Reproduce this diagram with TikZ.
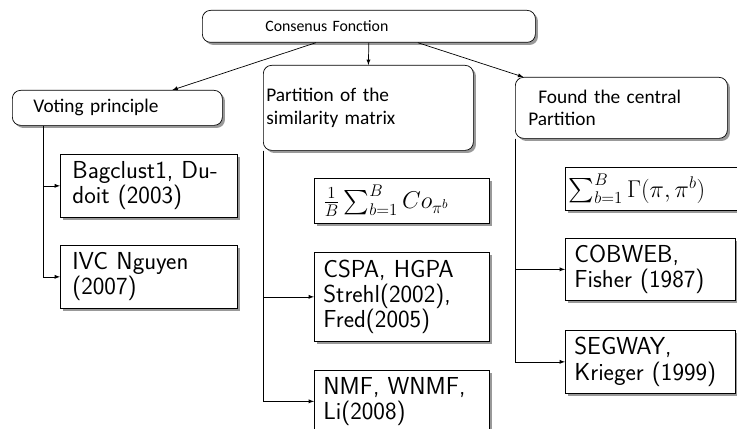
\documentclass[tikz,border=0pt]{standalone}
\usepackage{amsmath, amssymb}
\usepackage{exscale}
\usepackage{fontspec}
\newfontfamily\headfont{Carlito}
\usepackage{tikz}
\usetikzlibrary{
  % rounded boxes with a shadow
  shadows,%
  arrows,
  positioning
}
\tikzset{>=latex}
\tikzset{
  boxshadow/.style={drop shadow={shadow xshift=2.2pt, shadow yshift=-2.2pt,
      fill=black!40, opacity=1}},
  headbox/.style={draw, line width=0.6pt, rounded corners=7pt, fill=white,
    boxshadow, anchor=north west, align=left,
    font=\headfont\fontsize{16.5}{19.5}\selectfont},
  leafbox/.style={draw, line width=0.6pt, fill=white, boxshadow,
    anchor=north west, align=left,
    font=\sffamily\fontsize{21}{21.5}\selectfont},
  mathbox/.style={leafbox, font=\sffamily\fontsize{21}{22}\selectfont},
  link/.style={->, line width=0.6pt}
}

\begin{document}
\begin{tikzpicture}[x=0.03cm, y=-0.03cm]
  \useasboundingbox (0,0) rectangle (737,429);
  % the three families under the consensus function
  \node[headbox, minimum width=9.99cm, minimum height=0.96cm, text width=6.21cm,
    inner xsep=1.89cm, font=\headfont\fontsize{13.5}{14}\selectfont] (top) at (202,10) {Consenus Fonction};
  \node[headbox, minimum width=6.3cm, minimum height=1.05cm, text width=5.04cm,
    inner xsep=0.63cm] (voting) at (12,90) {Voting principle};
  \node[headbox, minimum width=6.3cm, minimum height=2.55cm, text width=6.12cm,
    inner xsep=0.09cm] (partition) at (263,65) {Partition of the\\similarity matrix};
  \node[headbox, minimum width=6.36cm, minimum height=1.83cm, text width=5.58cm,
    inner xsep=0.39cm] (found) at (515,77) {\hspace{0.3cm}Found the central\\Partition};
  % methods
  \node[leafbox, minimum width=5.31cm, minimum height=1.89cm, text width=4.59cm,
    inner xsep=0.36cm] (bagclust) at (60,154) {Bagclust1, Du-\\doit (2003)};
  \node[leafbox, minimum width=5.31cm, minimum height=1.89cm, text width=4.59cm,
    inner xsep=0.36cm] (ivc) at (60,245) {IVC Nguyen\\(2007)};
  \node[mathbox, minimum width=5.25cm, minimum height=1.35cm, text width=4.71cm,
    inner xsep=0.27cm] (coavg) at (314,178) {$\frac{1}{B}\sum_{b=1}^{B} Co_{\pi^b}$};
  \node[leafbox, minimum width=5.25cm, minimum height=2.67cm, text width=4.71cm,
    inner xsep=0.27cm] (cspa) at (314,252) {CSPA, HGPA\\Strehl(2002),\\Fred(2005)};
  \node[leafbox, minimum width=5.25cm, minimum height=1.86cm, text width=4.71cm,
    inner xsep=0.27cm] (nmf) at (314,370) {NMF, WNMF,\\Li(2008)};
  \node[mathbox, minimum width=5.4cm, minimum height=1.29cm, text width=5.2cm,
    inner xsep=0.1cm] (gamma) at (565,167) {$\sum_{b=1}^{B}\Gamma(\pi,\pi^b)$};
  \node[leafbox, minimum width=5.1cm, minimum height=1.86cm, text width=4.56cm,
    inner xsep=0.27cm] (cobweb) at (565,238) {COBWEB,\\Fisher (1987)};
  \node[leafbox, minimum width=5.1cm, minimum height=1.89cm, text width=4.56cm,
    inner xsep=0.27cm] (segway) at (565,330) {SEGWAY,\\Krieger (1999)};
  % connectors
  \draw[link] ([xshift=-1.59cm]top.south) -- ([xshift=1.65cm]voting.north);
  \draw[link] (top.south) -- (partition.north);
  \draw[link] ([xshift=1.47cm]top.south) -- ([xshift=-2.94cm]found.north);
  \foreach \leaf in {bagclust,ivc}
    \draw[link] ([xshift=0.93cm]voting.south west) |- (\leaf.west);
  \foreach \leaf in {cspa,nmf}
    \draw[link] (partition.south west) |- (\leaf.west);
  \foreach \leaf in {cobweb,segway}
    \draw[link] (found.south west) |- (\leaf.west);
\end{tikzpicture}
\end{document}
